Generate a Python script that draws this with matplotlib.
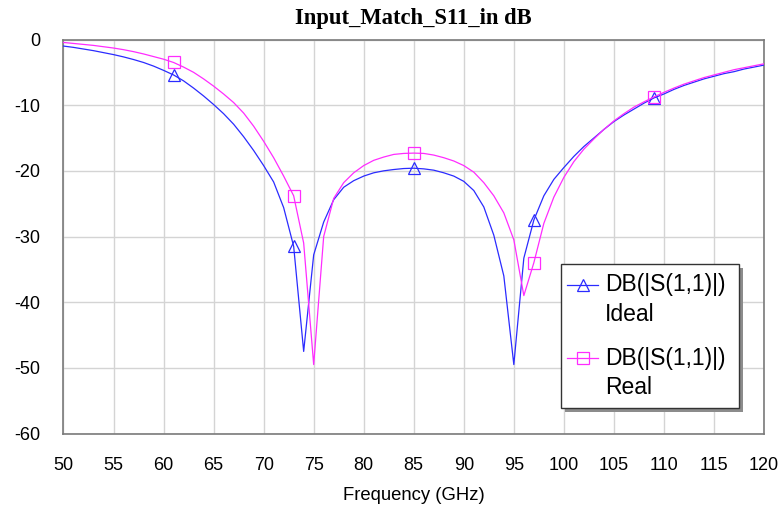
import matplotlib
matplotlib.use("Agg")
import matplotlib.pyplot as plt
from matplotlib.lines import Line2D
from matplotlib.patches import Rectangle

plt.rcParams["axes.unicode_minus"] = False

# ---- data ----
freq_ghz = list(range(50, 121))

s11_ideal_db = [
    -1.0, -1.2, -1.45, -1.7, -2.0, -2.3, -2.65, -3.05, -3.5, -4.05,   # 50-59
    -4.7, -5.4, -6.3, -7.4, -8.6, -9.9, -11.3, -12.9, -14.8, -16.9,   # 60-69
    -19.2, -21.7, -25.6, -31.5, -47.5, -32.8, -27.8, -24.4, -22.5, -21.5,  # 70-79
    -20.8, -20.3, -20.0, -19.8, -19.65, -19.6, -19.7, -19.9, -20.3, -20.8,  # 80-89
    -21.6, -23.0, -25.5, -29.8, -36.0, -49.5, -33.3, -27.5, -23.8, -21.3,  # 90-99
    -19.5, -17.8, -16.3, -15.0, -13.7, -12.5, -11.5, -10.6, -9.7, -8.9,   # 100-109
    -8.3, -7.6, -7.0, -6.5, -6.0, -5.6, -5.2, -4.9, -4.5, -4.2,          # 110-119
    -3.9,                                                                 # 120
]

s11_real_db = [
    -0.45, -0.6, -0.75, -0.9, -1.1, -1.3, -1.55, -1.85, -2.2, -2.6,    # 50-59
    -3.0, -3.5, -4.2, -5.0, -6.0, -7.1, -8.3, -9.6, -11.2, -13.2,      # 60-69
    -15.5, -18.0, -20.8, -23.8, -31.0, -49.5, -30.0, -24.2, -21.8, -20.3,  # 70-79
    -19.2, -18.4, -17.9, -17.5, -17.35, -17.3, -17.35, -17.6, -18.0, -18.5,  # 80-89
    -19.2, -20.2, -21.8, -23.8, -26.4, -30.5, -39.0, -34.0, -28.0, -24.0,  # 90-99
    -21.0, -18.6, -16.7, -15.15, -13.7, -12.4, -11.3, -10.3, -9.5, -8.75,  # 100-109
    -8.05, -7.4, -6.8, -6.3, -5.8, -5.4, -5.0, -4.6, -4.3, -4.0,        # 110-119
    -3.7,                                                               # 120
]

marker_freqs = [61, 73, 85, 97, 109]
x_ticks = list(range(50, 121, 5))
y_ticks = list(range(-60, 1, 10))

title_text = "Input_Match_S11_in dB"
x_label = "Frequency (GHz)"
legend_labels = [("DB(|S(1,1)|)", "Ideal"), ("DB(|S(1,1)|)", "Real")]

# ---- styling ----
W, H = 783, 508
BLUE = "#2b2bff"
MAGENTA = "#ff2cff"

fig = plt.figure(figsize=(W / 100, H / 100), dpi=100)
ax = fig.add_axes([63.5 / W, 1 - 433.5 / H, (764 - 63.5) / W, (433.5 - 39.5) / H])

mk_idx = [freq_ghz.index(f) for f in marker_freqs]

ax.plot(freq_ghz, s11_ideal_db, color=BLUE, lw=0.9, marker="^", markersize=9,
        fillstyle="none", markeredgewidth=0.9, markevery=mk_idx, zorder=3)
ax.plot(freq_ghz, s11_real_db, color=MAGENTA, lw=0.9, marker="s", markersize=9,
        fillstyle="none", markeredgewidth=0.9, markevery=mk_idx, zorder=3)

ax.set_xlim(50, 120)
ax.set_ylim(-60, 0)
ax.set_xticks(x_ticks)
ax.set_yticks(y_ticks)
ax.tick_params(axis="both", length=0, labelsize=13)
ax.tick_params(axis="x", pad=17)
ax.tick_params(axis="y", pad=17)
for lab in ax.get_xticklabels() + ax.get_yticklabels():
    lab.set_fontfamily("Liberation Sans")
ax.grid(True, color="#d4d4d4", lw=1.0)
ax.set_axisbelow(True)
for sp in ax.spines.values():
    sp.set_color("#7a7a7a")
    sp.set_linewidth(1.2)

ax.set_title(title_text, fontfamily="Liberation Serif", fontweight="bold",
             fontsize=16.3, pad=11)
ax.set_xlabel(x_label, fontfamily="Liberation Sans", fontsize=13.3, labelpad=9)

# ---- custom legend (pixel-positioned box with shadow) ----
def fx(px):
    return px / W

def fy(py):
    return 1 - py / H

bx0, by0, bx1, by1 = 560.5, 263.5, 738.5, 407.5
shadow = Rectangle((fx(bx0 + 4), fy(by1 + 4)), fx(bx1 - bx0), (by1 - by0) / H,
                   transform=fig.transFigure, facecolor="#8c8c8c", edgecolor="none",
                   zorder=5)
box = Rectangle((fx(bx0), fy(by1)), fx(bx1 - bx0), (by1 - by0) / H,
                transform=fig.transFigure, facecolor="white", edgecolor="#333333",
                lw=1.0, zorder=6)
fig.patches.extend([shadow, box])

entries = [(BLUE, "^", 285, 291.5, 321), (MAGENTA, "s", 358, 365.5, 394)]
for (col, mk, hy, b1, b2), (l1, l2) in zip(entries, legend_labels):
    fig.add_artist(Line2D([fx(567), fx(598)], [fy(hy), fy(hy)], transform=fig.transFigure,
                          color=col, lw=0.9, zorder=7))
    fig.add_artist(Line2D([fx(582.5)], [fy(hy)], transform=fig.transFigure, color=col,
                          marker=mk, markersize=9, fillstyle="none",
                          markeredgewidth=0.9, zorder=7))
    fig.text(fx(605), fy(b1), l1, fontfamily="Liberation Sans", fontsize=16.5,
             va="baseline", ha="left", zorder=8)
    fig.text(fx(605), fy(b2), l2, fontfamily="Liberation Sans", fontsize=16.5,
             va="baseline", ha="left", zorder=8)

fig.savefig("out.png", dpi=100)
